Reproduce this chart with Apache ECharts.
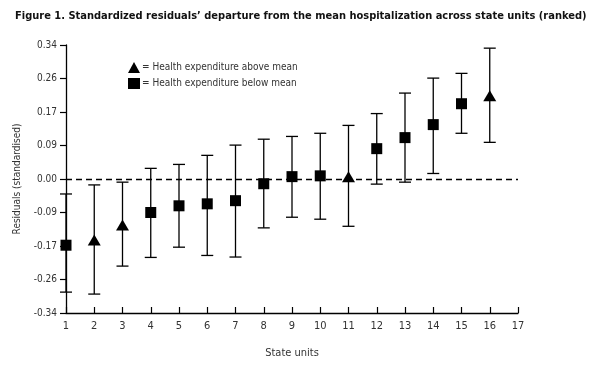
<!DOCTYPE html>
<html><head><meta charset="utf-8">
<script src="https://cdn.jsdelivr.net/npm/echarts@6/dist/echarts.min.js"></script>
<style>html,body{margin:0;padding:0;background:#fff}#c{width:596px;height:369px}</style>
</head><body><div id="c"></div>
<script>
const units = [1,2,3,4,5,6,7,8,9,10,11,12,13,14,15,16];
const residuals = [-0.168,-0.155,-0.117,-0.085,-0.068,-0.063,-0.055,-0.012,0.006,0.008,0.006,0.077,0.105,0.138,0.191,0.211];
const lowerCI = [-0.287,-0.292,-0.221,-0.199,-0.173,-0.194,-0.198,-0.124,-0.097,-0.102,-0.120,-0.013,-0.008,0.014,0.116,0.093];
const upperCI = [-0.038,-0.015,-0.008,0.027,0.037,0.060,0.086,0.101,0.108,0.116,0.136,0.166,0.218,0.256,0.268,0.332];
const expenditure = ['below','above','above','below','below','below','below','below','below','below','above','below','below','below','below','above'];
const yTickLabels = ['-0.34','-0.26','-0.17','-0.09','0.00','0.09','0.17','0.26','0.34'];
const seriesNames = ['Health expenditure above mean','Health expenditure below mean'];

const aboveData = [], belowData = [], barData = [];
units.forEach((u,i)=>{
  barData.push([u, lowerCI[i], upperCI[i]]);
  if (expenditure[i]==='above') aboveData.push([u, residuals[i]]);
  else belowData.push([u, residuals[i]]);
});

const font = '"DejaVu Sans Condensed", "Liberation Sans Narrow", "Liberation Sans", sans-serif';
const chart = echarts.init(document.getElementById('c'), null, {renderer:'canvas'});
chart.setOption({
  animation:false,
  backgroundColor:'#fff',
  title:{text:'Figure 1. Standardized residuals\u2019 departure from the mean hospitalization across state units (ranked)',
    left:10, top:6, textStyle:{fontFamily:font, fontWeight:'bold', fontSize:11, color:'#111'}},
  legend:{left:123, top:57, orient:'vertical', itemGap:5, itemWidth:12, itemHeight:11,
    data:[{name:seriesNames[0], icon:'triangle'},{name:seriesNames[1], icon:'rect'}],
    formatter:n=>'= '+n,
    textStyle:{fontFamily:font, fontSize:10, color:'#333', padding:[0,0,0,-3]}},
  grid:{left:66, right:78, top:45, bottom:56},
  xAxis:{type:'value', min:1, max:17, interval:1, name:'State units', nameLocation:'middle', nameGap:35,
    nameTextStyle:{fontFamily:font, fontSize:11, color:'#333'},
    axisLine:{onZero:false, lineStyle:{color:'#000', width:1.3}},
    axisTick:{inside:true, length:6, lineStyle:{color:'#000', width:1.2}},
    axisLabel:{fontFamily:font, fontSize:11, color:'#333', margin:8},
    splitLine:{show:false}},
  yAxis:{type:'value', min:-0.34, max:0.34, interval:0.085, name:'Residuals (standardised)', nameLocation:'middle', nameGap:35,
    nameRotate:90,
    nameTextStyle:{fontFamily:font, fontSize:10, color:'#333'},
    axisLine:{onZero:false, lineStyle:{color:'#000', width:1.3}},
    axisTick:{length:6, lineStyle:{color:'#000', width:1.2}},
    axisLabel:{fontFamily:font, fontSize:10, color:'#333', margin:9,
      formatter:(v)=>{const idx=Math.round((v+0.34)/0.085); return yTickLabels[idx]||'';}},
    splitLine:{show:false}},
  series:[
    {type:'custom', name:'ci', silent:true, z:2,
      renderItem:(params, api)=>{
        const x = api.value(0);
        const lo = api.coord([x, api.value(1)]);
        const hi = api.coord([x, api.value(2)]);
        const cw = 6;
        const st = {stroke:'#000', lineWidth:1.3};
        return {type:'group', children:[
          {type:'line', shape:{x1:lo[0], y1:lo[1], x2:hi[0], y2:hi[1]}, style:st},
          {type:'line', shape:{x1:lo[0]-cw, y1:lo[1], x2:lo[0]+cw, y2:lo[1]}, style:st},
          {type:'line', shape:{x1:hi[0]-cw, y1:hi[1], x2:hi[0]+cw, y2:hi[1]}, style:st}
        ]};
      },
      encode:{x:0, y:[1,2]}, data:barData,
      markLine:{silent:true, symbol:'none', label:{show:false},
        lineStyle:{color:'#000', type:[6,4], width:1.3}, data:[{yAxis:0}]}},
    {type:'scatter', name:seriesNames[0], symbol:'triangle', symbolSize:[13,11], z:5,
      itemStyle:{color:'#000', opacity:1}, data:aboveData},
    {type:'scatter', name:seriesNames[1], symbol:'rect', symbolSize:11, z:5,
      itemStyle:{color:'#000', opacity:1}, data:belowData}
  ]
});
</script></body></html>
